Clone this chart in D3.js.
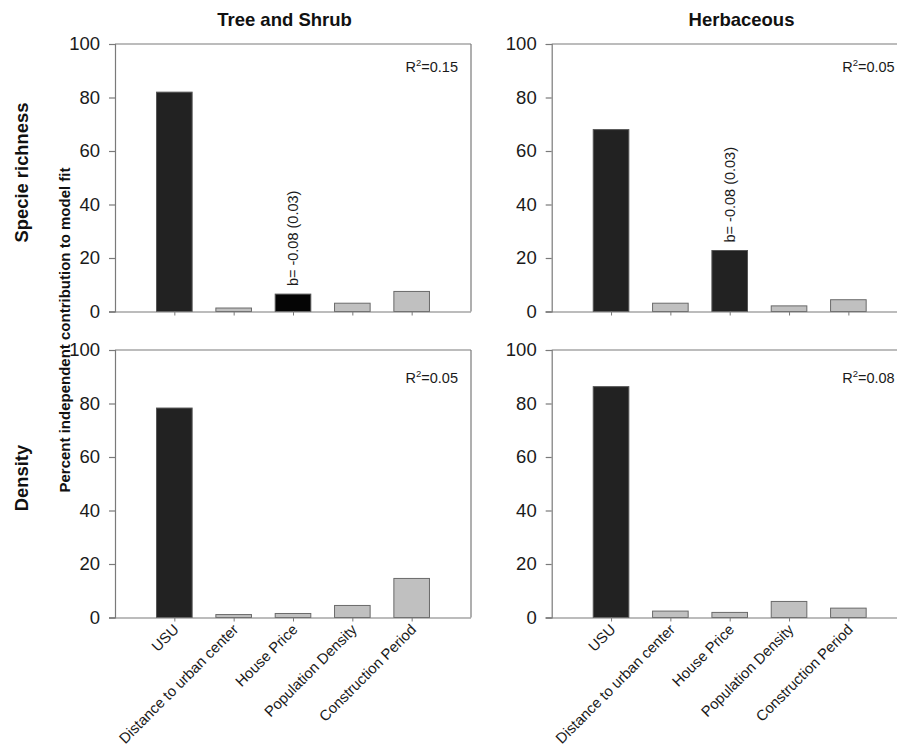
<!DOCTYPE html>
<html>
<head>
<meta charset="utf-8">
<script src="https://cdn.jsdelivr.net/npm/d3@7"></script>
<style>
  html, body { margin: 0; padding: 0; background: #fff; }
  svg { display: block; font-family: "Liberation Sans", Arial, sans-serif; }
</style>
</head>
<body>
<svg id="chart" width="897" height="750"></svg>
<script>
// ---- data ----
const categories = ["USU", "Distance to urban center", "House Price", "Population Density", "Construction Period"];
const columnTitles = ["Tree and Shrub", "Herbaceous"];
const rowTitles = ["Specie richness", "Density"];
const yTicks = [0, 20, 40, 60, 80, 100];

const richnessTreeShrub = [82, 1.3, 6.5, 3.1, 7.5];
const richnessHerbaceous = [68, 3.1, 22.8, 2.1, 4.4];
const densityTreeShrub = [78.3, 1.1, 1.5, 4.5, 14.6];
const densityHerbaceous = [86.3, 2.4, 1.9, 6.0, 3.5];

const r2Labels = ["0.15", "0.05", "0.05", "0.08"];
const annotationText = "b= -0.08 (0.03)";
const annotatedCategory = ["House Price", "House Price", null, null];

const panelValues = [richnessTreeShrub, richnessHerbaceous, densityTreeShrub, densityHerbaceous];

// ---- layout ----
const svg = d3.select("#chart");
const W = 356, H = 267.5;
const colX = [115, 551.7];
const rowY = [44, 350];
const r2Offset = [28, 33];

const axisColor = "#7a7a7a";
const textColor = "#1a1a1a";

panelValues.forEach((vals, p) => {
  const row = Math.floor(p / 2), col = p % 2;
  const x0 = colX[col], y0 = rowY[row];
  const g = svg.append("g").attr("transform", `translate(${x0},${y0})`);

  const x = d3.scalePoint().domain(categories).range([0, W]).padding(1);
  const y = d3.scaleLinear().domain([0, 100]).range([H, 0]);
  const bw = x.step() * 0.6;

  // frame (top & right)
  g.append("line").attr("x1", 0).attr("x2", W).attr("y1", 0).attr("y2", 0)
    .attr("stroke", axisColor).attr("stroke-width", 1.2);
  g.append("line").attr("x1", W).attr("x2", W).attr("y1", 0).attr("y2", H)
    .attr("stroke", axisColor).attr("stroke-width", 1.2);

  // bars
  g.selectAll("rect.bar").data(vals).enter().append("rect")
    .attr("class", "bar")
    .attr("x", (d, i) => x(categories[i]) - bw / 2)
    .attr("width", bw)
    .attr("y", d => y(d))
    .attr("height", d => H - y(d))
    .attr("fill", (d, i) => {
      const c = categories[i];
      if (c === annotatedCategory[p]) return p === 0 ? "#050505" : "#222222";
      if (i === 0) return "#222222";
      return "#c0c0c0";
    })
    .attr("stroke", (d, i) => (i === 0 || categories[i] === annotatedCategory[p]) ? "#555555" : "#6a6a6a")
    .attr("stroke-width", 1);

  // y axis
  const yAxis = g.append("g").call(d3.axisLeft(y).tickValues(yTicks).tickSize(6).tickPadding(9));
  yAxis.select(".domain").attr("stroke", axisColor).attr("stroke-width", 1.2);
  yAxis.selectAll(".tick line").attr("stroke", axisColor).attr("stroke-width", 1.2);
  yAxis.selectAll(".tick text").attr("fill", textColor)
    .style("font-size", "18.5px").style("font-family", "Liberation Sans, Arial, sans-serif");

  // x axis
  const xAxis = g.append("g").attr("transform", `translate(0,${H})`)
    .call(d3.axisBottom(x).tickSize(4).tickSizeOuter(0));
  xAxis.select(".domain").attr("stroke", axisColor).attr("stroke-width", 1.2)
    .attr("d", `M-6,0.5H${W}`);
  xAxis.selectAll(".tick line").attr("stroke", axisColor).attr("stroke-width", 1);
  if (row === 1) {
    xAxis.selectAll(".tick text")
      .attr("fill", textColor)
      .style("font-size", "14.8px")
      .style("font-family", "Liberation Sans, Arial, sans-serif")
      .attr("text-anchor", "end")
      .attr("dy", "0")
      .attr("y", 0)
      .attr("transform", "translate(5,13) rotate(-45)");
  } else {
    xAxis.selectAll(".tick text").remove();
  }

  // R^2 label
  const r2 = g.append("text")
    .attr("x", W - 13).attr("y", r2Offset[row])
    .attr("text-anchor", "end")
    .attr("fill", textColor)
    .style("font-size", "14.5px");
  r2.append("tspan").text("R");
  r2.append("tspan").attr("dy", -6).style("font-size", "9.5px").text("2");
  r2.append("tspan").attr("dy", 6).text("=" + r2Labels[p]);

  // annotation
  if (annotatedCategory[p]) {
    const ai = categories.indexOf(annotatedCategory[p]);
    const ax = x(categories[ai]);
    const ay = y(vals[ai]) - 8;
    g.append("text")
      .attr("transform", `translate(${ax + 5},${ay}) rotate(-90)`)
      .attr("text-anchor", "start")
      .attr("fill", textColor)
      .style("font-size", "14.5px")
      .text(annotationText);
  }
});

// column titles
const colTitleX = [284.5, 741.5];
columnTitles.forEach((t, i) => {
  svg.append("text").attr("x", colTitleX[i]).attr("y", 26)
    .attr("text-anchor", "middle").attr("fill", "#111")
    .style("font-size", "18.5px").style("font-weight", "bold").text(t);
});

// row titles
const rowTitleY = [172.5, 478];
rowTitles.forEach((t, i) => {
  svg.append("text")
    .attr("transform", `translate(28,${rowTitleY[i]}) rotate(-90)`)
    .attr("text-anchor", "middle").attr("fill", "#111")
    .style("font-size", "18.4px").style("font-weight", "bold").text(t);
});

// y axis title
svg.append("text")
  .attr("transform", "translate(70,330) rotate(-90)")
  .attr("text-anchor", "middle").attr("fill", "#111")
  .style("font-size", "15px").style("font-weight", "bold")
  .text("Percent independent contribution to model fit");
</script>
</body>
</html>
